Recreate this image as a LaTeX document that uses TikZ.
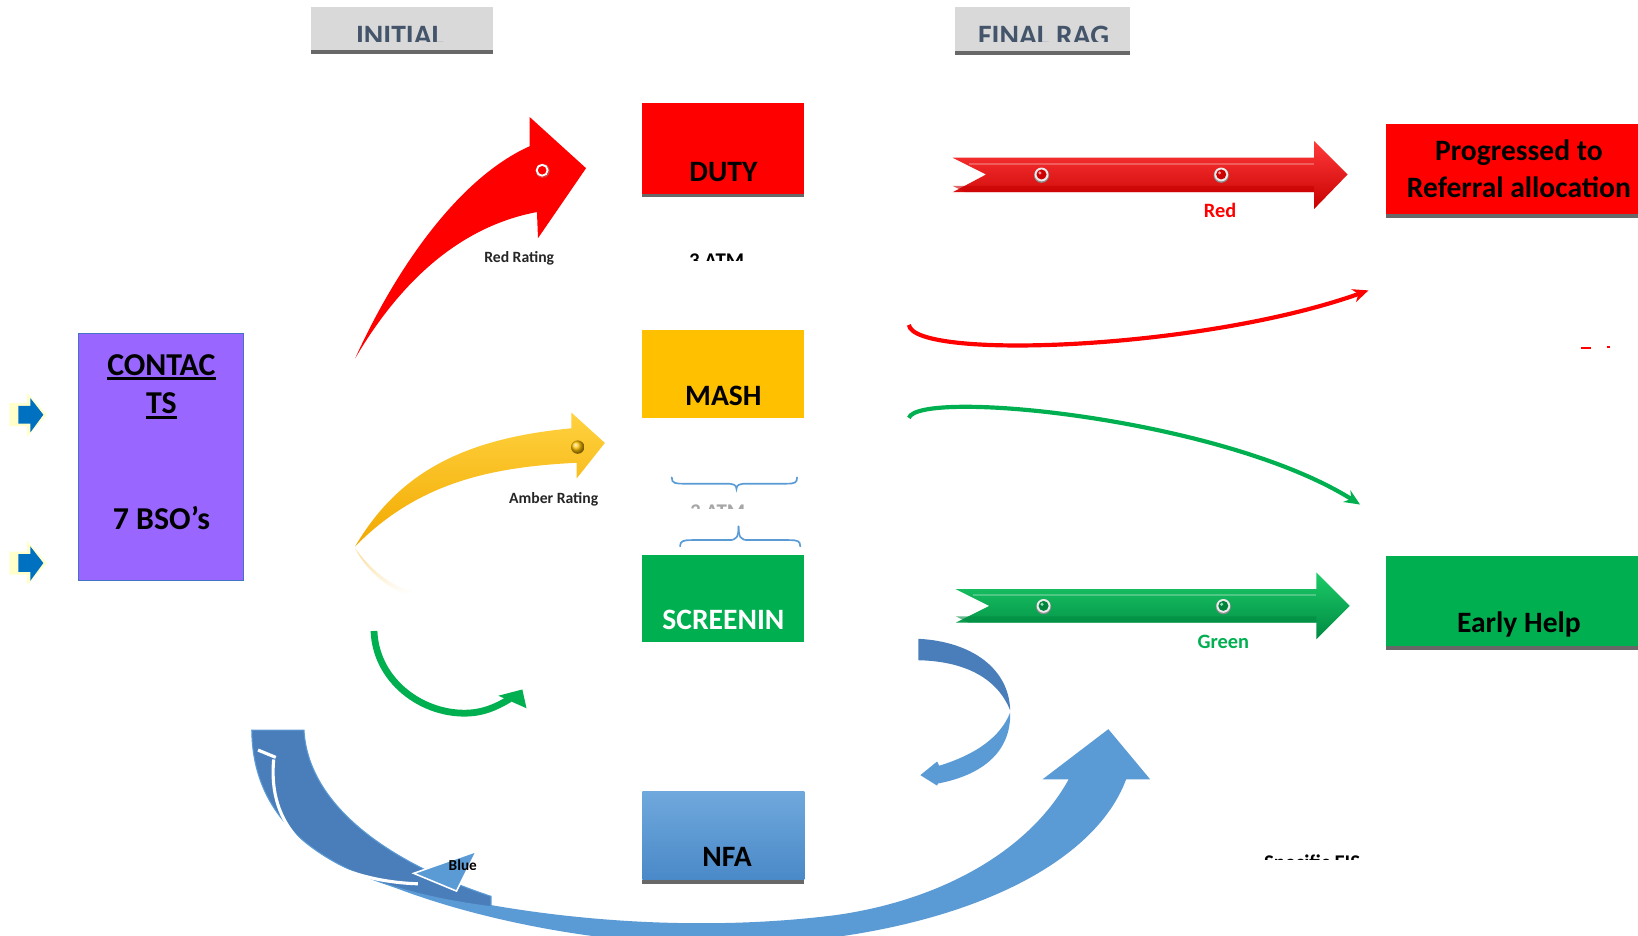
\documentclass[tikz,border=0pt]{standalone}
\usepackage{fontspec}
\setmainfont{Carlito}
\usetikzlibrary{arrows.meta}
\definecolor{cRed}{HTML}{FF0000}
\definecolor{cRedDark}{HTML}{C80000}
\definecolor{cRedLight}{HTML}{FF3A3A}
\definecolor{cAmber}{HTML}{FFC000}
\definecolor{cAmberLight}{HTML}{FFD23F}
\definecolor{cAmberDark}{HTML}{F2A900}
\definecolor{cGreen}{HTML}{00B050}
\definecolor{cGreenDark}{HTML}{008A42}
\definecolor{cGreenLight}{HTML}{1CCB68}
\definecolor{cPurple}{HTML}{9966FF}
\definecolor{cPurpleEdge}{HTML}{4472C4}
\definecolor{cBlueL}{HTML}{5B9BD5}
\definecolor{cBlueD}{HTML}{4A7EBB}
\definecolor{cHdr}{HTML}{D9D9D9}
\definecolor{cShadow}{HTML}{686868}
\definecolor{cHdrTxt}{HTML}{44546A}
\definecolor{cArrowBlue}{HTML}{0070C0}
\definecolor{cGlow}{HTML}{FFFFCC}
\definecolor{cNfaTop}{HTML}{6FA8DC}
\definecolor{cNfaBot}{HTML}{4A89C8}
\definecolor{cBrace}{HTML}{5B9BD5}
\tikzset{
  box/.style={inner sep=0pt, outer sep=0pt, draw=none},
  big/.style={font=\bfseries\fontsize{28.3}{31}\selectfont, anchor=base, inner sep=0pt},
  bigger/.style={font=\bfseries\fontsize{30.5}{33}\selectfont, anchor=base, inner sep=0pt},
  small/.style={font=\bfseries\fontsize{15}{17}\selectfont, anchor=base, inner sep=0pt, text=black!85},
  mid/.style={font=\bfseries\fontsize{19.5}{22}\selectfont, anchor=base, inner sep=0pt},
  tiny/.style={font=\bfseries\fontsize{20}{22}\selectfont, anchor=base, inner sep=0pt},
  shadowbar/.style={fill=cShadow},
  bracepen/.style={draw=cBrace, line width=1.6pt, line cap=round},
}
\begin{document}
\begin{tikzpicture}[x=1pt,y=-1pt]
\useasboundingbox (0,0) rectangle (1568,896);
\fill[white] (0,0) rectangle (1568,896);

% ---------- headers ----------
\node[box, fill=cHdr, minimum width=174pt, minimum height=41pt] (initial) at (385,27.5) {};
\fill[shadowbar] (initial.south west) rectangle ([yshift=-4pt]initial.south east);
\begin{scope}
  \clip (298,7) rectangle (472,40);
  \node[big, text=cHdrTxt] (initialt) at (383,44) {INITIAL};
\end{scope}
\node[box, fill=cHdr, minimum width=168pt, minimum height=42pt] (final) at (998,28) {};
\fill[shadowbar] (final.south west) rectangle ([yshift=-4pt]final.south east);
\begin{scope}
  \clip (914,7) rectangle (1082,40);
  \node[big, text=cHdrTxt] (finalt) at (999,44) {FINAL RAG};
\end{scope}

% ---------- left input arrows ----------
\foreach \yy in {397,539} {
  \fill[cGlow] (9,{\yy-11}) -- (26,{\yy-11}) -- (26,{\yy-21}) -- (45,\yy) -- (26,{\yy+21}) -- (26,{\yy+11}) -- (9,{\yy+11}) -- cycle;
  \fill[cArrowBlue] (17.5,{\yy-8.5}) -- (29,{\yy-8.5}) -- (29,{\yy-16}) -- (41.5,\yy) -- (29,{\yy+17}) -- (29,{\yy+8.5}) -- (17.5,{\yy+8.5}) -- cycle;
}

% ---------- contacts ----------
\node[box, fill=cPurple, draw=cPurpleEdge, line width=0.8pt, minimum width=158pt, minimum height=237pt] (contacts) at (154,437.5) {};
\node[bigger] (ct1) at (154.5,359) {CONTAC};
\draw[line width=2.4pt] ([yshift=-3.5pt]ct1.base west) -- ([yshift=-3.5pt]ct1.base east);
\node[bigger] (ct2) at (154.5,396) {TS};
\draw[line width=2.4pt] ([yshift=-3.5pt]ct2.base west) -- ([yshift=-3.5pt]ct2.base east);
\node[bigger] (bso) at (154.5,507) {7 BSO’s};

% ---------- red rating arrow ----------
\fill[cRed] (340,343) .. controls (380,255) and (440,170) .. (507,140) -- (507,112) -- (561,161) -- (515,228) -- (514,203) .. controls (450,215) and (390,258) .. (340,343) -- cycle;
\draw[black!40, line width=1pt, opacity=0.5] (519.5,163.5) circle (6.2);
\draw[white, line width=1.8pt] (519,163) circle (5.2);
\node[small] (redrating) at (497,251) {Red Rating};

% ---------- amber rating arrow ----------
\shade[top color=cAmberDark!40!white, bottom color=white] (340,525) .. controls (355,545) and (372,560) .. (395,567) -- (385,568) .. controls (368,560) and (350,545) .. (340,525) -- cycle;
\shade[top color=cAmberLight, bottom color=cAmberDark] (340,523) .. controls (380,455) and (440,420) .. (547,410) -- (547,395) -- (579,424) -- (552,458) -- (552,443) .. controls (470,447) and (400,462) .. (340,523) -- cycle;
\shade[ball color=cAmber] (553,428) circle (6.4);
\node[small] (amberrating) at (530,482) {Amber Rating};

% ---------- small green arrow ----------
\draw[cGreen, line width=6.5pt] (358,604) .. controls (360,655) and (410,688) .. (455,682) .. controls (468,680) and (478,675) .. (488,669);
\fill[cGreen] (500,660) -- (477,666) -- (504,678) -- cycle;

% ---------- centre boxes ----------
\node[box, fill=cRed, minimum width=155pt, minimum height=87pt] (duty) at (692.5,142.5) {};
\fill[shadowbar] (duty.south west) rectangle ([yshift=-3pt]duty.south east);
\node[big] (dutyt) at (692.5,173.5) {DUTY};

\begin{scope}
  \clip (640,230) rectangle (740,249);
  \node[tiny] (atm1) at (686,256) {3 ATM};
\end{scope}

\node[box, fill=cAmber, minimum width=155pt, minimum height=84pt] (mash) at (692.5,358) {};
\node[big] (masht) at (692.5,388) {MASH};

\draw[bracepen] (643,457) .. controls (643,463) and (647,463) .. (655,463) -- (695,463) .. controls (702,463) and (705,464) .. (705,468) .. controls (705,464) and (708,463) .. (715,463) -- (753,463) .. controls (761,463) and (763,462) .. (763,457);
\begin{scope}
  \clip (640,482) rectangle (740,486.5);
  \node[tiny, text=black!35] (atm2) at (687,496) {3 ATM};
\end{scope}
\draw[bracepen] (651,523) .. controls (651,518) and (654,517) .. (662,517) -- (698,517) .. controls (705,517) and (707,514) .. (707,504);
\draw[bracepen] (707,504) .. controls (707,514) and (709,517) .. (716,517) -- (755,517) .. controls (764,517) and (766,518) .. (766,523);

\node[box, fill=cGreen, minimum width=155pt, minimum height=84pt] (screen) at (692.5,573) {};
\node[big, text=white] (screent) at (692.5,603) {SCREENIN};

\node[box, top color=cNfaTop, bottom color=cNfaBot, minimum width=155pt, minimum height=84pt] (nfa) at (692.5,800) {};
\fill[shadowbar] (nfa.south west) rectangle ([yshift=-4pt]nfa.south east);
\node[big] (nfat) at (696,829) {NFA};

% ---------- red straight arrow ----------
\shade[top color=cRedLight, middle color=cRed, bottom color=cRedDark] (912,151) -- (944,167) -- (912,184) -- (1258,184) -- (1258,200) -- (1290,167) -- (1258,135) -- (1258,151) -- cycle;
\fill[cRedDark, opacity=0.6] (912,178) -- (924,184) -- (1258,184) -- (1258,178) -- cycle;
\draw[white, opacity=0.25, line width=2pt] (928,157) -- (1258,157);
\foreach \xx in {997,1169} {
  \fill[black!45] (\xx,167.8) circle (7.2);
  \fill[white!85!gray] (\xx,167) circle (6.6);
  \fill[cRed!80!black] (\xx,167) circle (4.8);
  \fill[cRed!40!white] (\xx-1.5,165.5) circle (1.6);
}
\node[mid, text=cRed] (redlbl) at (1168,208) {Red};

% ---------- green straight arrow ----------
\shade[top color=cGreenLight, middle color=cGreen, bottom color=cGreenDark] (915,564) -- (947,580) -- (915,596) -- (1260,596) -- (1260,612) -- (1292,580) -- (1260,548) -- (1260,564) -- cycle;
\fill[cGreenDark, opacity=0.6] (915,590) -- (927,596) -- (1260,596) -- (1260,590) -- cycle;
\draw[white, opacity=0.25, line width=2pt] (931,570) -- (1260,570);
\foreach \xx in {999,1171} {
  \fill[black!45] (\xx,580.8) circle (7.2);
  \fill[white!85!gray] (\xx,580) circle (6.6);
  \fill[cGreen!75!black] (\xx,580) circle (4.8);
  \fill[cGreen!40!white] (\xx-1.5,578.5) circle (1.6);
}
\node[mid, text=cGreen] (greenlbl) at (1171,621) {Green};

% ---------- right boxes ----------
\node[box, fill=cRed, minimum width=241pt, minimum height=86pt] (prog) at (1447.5,162) {};
\fill[shadowbar] (prog.south west) rectangle ([yshift=-4pt]prog.south east);
\node[big] (prog1) at (1454,154) {Progressed to};
\node[big] (prog2) at (1454,189) {Referral allocation};

\node[box, fill=cGreen, minimum width=241pt, minimum height=86pt] (early) at (1447.5,575) {};
\fill[shadowbar] (early.south west) rectangle ([yshift=-4pt]early.south east);
\node[big] (earlyt) at (1454,605) {Early Help};

% ---------- thin curved arrows ----------
\draw[cRed, line width=4pt, -{Stealth[length=15pt,width=13pt]}] (870,311) .. controls (875,345) and (1150,335) .. (1310,278);
\draw[cGreen, line width=4pt, -{Stealth[length=15pt,width=13pt]}] (870,400) .. controls (880,372) and (1170,400) .. (1302,483);
\fill[cRed] (1513,332) rectangle (1523,334);
\fill[cRed] (1538,331) rectangle (1541,333);

% ---------- blue C arrow ----------
\fill[cBlueD] (879,611.5) .. controls (930,614) and (966,640) .. (967,680) .. controls (955,650) and (925,633) .. (879,632) -- cycle;
\fill[cBlueL] (967,682) .. controls (968,720) and (940,742) .. (898,750) -- (897,752) -- (881,742) -- (897,729) -- (899,733) .. controls (935,722) and (958,705) .. (967,682) -- cycle;

% ---------- big blue swoosh ----------
\fill[cBlueL] (350,838) .. controls (480,878) and (650,895) .. (800,876) .. controls (900,862) and (985,815) .. (1023,746) -- (998,746) -- (1061,698) -- (1101,746) -- (1078,746) .. controls (1045,835) and (900,900) .. (700,905) .. controls (550,905) and (420,870) .. (350,838) -- cycle;

\fill[cBlueD, draw=cBlueL, line width=1pt] (241,699) -- (291,699) .. controls (295,770) and (370,825) .. (470,858) -- (470,868) .. controls (330,850) and (242,800) .. (241,699) -- cycle;
\draw[white, line width=3pt] (247,718) -- (264,725);
\draw[white, line width=3pt] (262,727) .. controls (258,770) and (275,800) .. (306,821) .. controls (330,836) and (365,845) .. (400,846);
\fill[cBlueL, draw=white, line width=1.5pt] (396,836) -- (456,815) -- (437,853) -- cycle;
\begin{scope}
  \clip (420,812) rectangle (470,832.5);
  \node[font=\bfseries\fontsize{14.6}{16}\selectfont, anchor=base, inner sep=0pt] (bluelbl) at (443,833.5) {Blue};
\end{scope}

% ---------- clipped footer text ----------
\begin{scope}
  \clip (1190,800) rectangle (1320,823);
  \node[tiny] (eis) at (1256,832) {Specific EIS};
\end{scope}
\end{tikzpicture}
\end{document}
